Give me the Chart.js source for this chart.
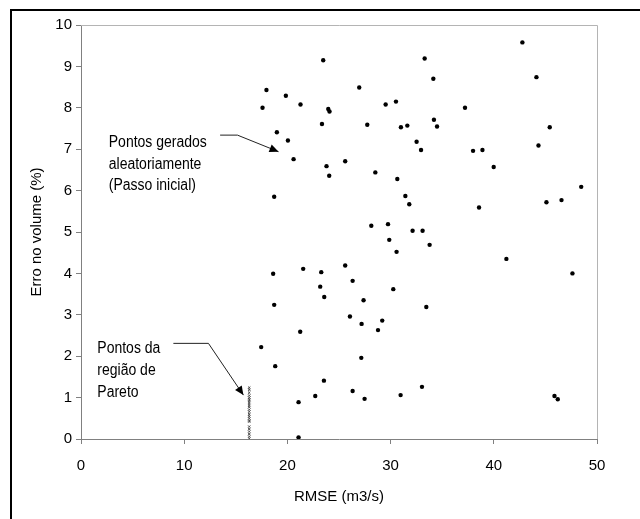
<!DOCTYPE html>
<html>
<head>
<meta charset="utf-8">
<script src="https://cdn.jsdelivr.net/npm/chart.js@4.4.1/dist/chart.umd.min.js"></script>
<style>
  body { margin: 0; background: #fff; }
</style>
</head>
<body>
<canvas id="chart" width="640" height="519"></canvas>
<script>
// random points (initial step)
const randomX = [17.97, 17.59, 19.85, 21.27, 18.98, 20.05, 20.60, 18.72, 23.35, 23.47,
  42.77, 33.30, 44.13, 34.14, 26.96, 23.96, 24.08, 29.52, 30.52, 37.21,
  27.74, 31.00, 31.62, 34.20, 34.50, 45.42, 32.52, 32.95, 37.99, 38.90,
  44.33, 23.79, 24.05, 25.60, 28.52, 39.99, 30.65, 31.43, 31.81, 48.47,
  45.10, 46.56, 38.57, 28.13, 29.75, 32.13, 33.10, 29.87, 33.78, 30.58,
  41.22, 18.62, 21.53, 23.28, 23.18, 18.72, 21.24, 17.46, 18.82, 22.70,
  21.08, 21.08, 25.60, 26.32, 23.57, 30.26, 27.38, 33.46, 26.06, 29.19,
  27.19, 28.78, 27.16, 23.54, 26.32, 27.48, 30.97, 33.04, 45.88, 46.20, 47.62];
const randomY = [8.43, 8.00, 8.29, 8.08, 7.41, 7.21, 6.76, 5.85, 7.61, 9.15,
  9.58, 9.19, 8.74, 8.70, 8.49, 7.97, 7.91, 8.08, 8.15, 8.00,
  7.59, 7.53, 7.57, 7.71, 7.55, 7.53, 7.18, 6.98, 6.96, 6.98,
  7.09, 6.59, 6.36, 6.71, 6.44, 6.57, 6.28, 5.87, 5.67, 6.09,
  5.72, 5.77, 5.59, 5.15, 5.19, 5.03, 5.03, 4.81, 4.69, 4.52,
  4.35, 3.99, 4.11, 4.03, 3.68, 3.24, 2.59, 2.22, 1.76, 1.04,
  0.89, 0.04, 4.19, 3.82, 3.43, 3.62, 3.35, 3.19, 2.96, 2.86,
  2.78, 2.63, 1.96, 1.41, 1.16, 0.97, 1.06, 1.26, 1.04, 0.96, 4.00];

// Pareto region points
const paretoX = [16.3, 16.3, 16.3, 16.3, 16.3, 16.3, 16.3, 16.3, 16.3, 16.3,
  16.3, 16.3, 16.3, 16.3, 16.3, 16.3, 16.3, 16.3, 16.3, 16.3, 16.3, 16.3, 16.3];
const paretoY = [1.24, 1.19, 1.12, 1.05, 1.00, 0.96, 0.92, 0.87, 0.82, 0.77,
  0.71, 0.66, 0.60, 0.55, 0.50, 0.45, 0.42, 0.30, 0.24, 0.18, 0.12, 0.06, 0.01];

const xTicks = [0, 10, 20, 30, 40, 50];
const yTicks = [0, 1, 2, 3, 4, 5, 6, 7, 8, 9, 10];
const xTitle = 'RMSE (m3/s)';
const yTitle = 'Erro no volume (%)';

const notes = [
  { lines: ['Pontos gerados', 'aleatoriamente', '(Passo inicial)'], x: 2.69, y: 7.06,
    arrow: [[13.48, 7.34], [15.16, 7.34], [19.14, 6.94]] },
  { lines: ['Pontos da', 'região de', 'Pareto'], x: 1.58, y: 2.07,
    arrow: [[8.95, 2.31], [12.35, 2.31], [15.74, 1.06]] }
];

const FONT = 'Arial, "Liberation Sans", sans-serif';

const decor = {
  id: 'decor',
  beforeDraw(chart) {
    const ctx = chart.ctx;
    ctx.save();
    ctx.fillStyle = '#fff';
    ctx.fillRect(0, 0, chart.width, chart.height);
    // outer frame
    ctx.strokeStyle = '#000';
    ctx.lineWidth = 2;
    ctx.beginPath();
    ctx.moveTo(11, 519);
    ctx.lineTo(11, 10);
    ctx.lineTo(640, 10);
    ctx.stroke();
    ctx.restore();
  },
  afterDraw(chart) {
    const ctx = chart.ctx;
    const a = chart.chartArea;
    const xs = chart.scales.x, ys = chart.scales.y;
    ctx.save();
    // plot area border top/right
    ctx.strokeStyle = '#b4b4b4';
    ctx.lineWidth = 1;
    ctx.beginPath();
    ctx.moveTo(a.left, a.top + 0.5);
    ctx.lineTo(a.right + 0.5, a.top + 0.5);
    ctx.lineTo(a.right + 0.5, a.bottom);
    ctx.stroke();

    notes.forEach(n => {
      const tx = xs.getPixelForValue(n.x);
      const ty = ys.getPixelForValue(n.y);
      // text is a bit tall and narrow in the original
      ctx.save();
      ctx.translate(tx, ty);
      ctx.scale(0.875, 1);
      ctx.font = '16px ' + FONT;
      ctx.fillStyle = '#000';
      ctx.textBaseline = 'alphabetic';
      ctx.textAlign = 'left';
      n.lines.forEach((l, i) => ctx.fillText(l, 0, i * 21.8));
      ctx.restore();

      const pts = n.arrow.map(p => [xs.getPixelForValue(p[0]), ys.getPixelForValue(p[1])]);
      ctx.strokeStyle = '#222';
      ctx.lineWidth = 1;
      ctx.beginPath();
      ctx.moveTo(pts[0][0], pts[0][1]);
      for (let i = 1; i < pts.length; i++) ctx.lineTo(pts[i][0], pts[i][1]);
      ctx.stroke();
      // arrow head
      const [p1, p2] = [pts[pts.length - 2], pts[pts.length - 1]];
      const ang = Math.atan2(p2[1] - p1[1], p2[0] - p1[0]);
      const len = 9, wid = 4;
      ctx.fillStyle = '#000';
      ctx.beginPath();
      ctx.moveTo(p2[0], p2[1]);
      ctx.lineTo(p2[0] - len * Math.cos(ang) + wid * Math.sin(ang), p2[1] - len * Math.sin(ang) - wid * Math.cos(ang));
      ctx.lineTo(p2[0] - len * Math.cos(ang) - wid * Math.sin(ang), p2[1] - len * Math.sin(ang) + wid * Math.cos(ang));
      ctx.closePath();
      ctx.fill();
    });
    ctx.restore();
  }
};

new Chart(document.getElementById('chart'), {
  type: 'scatter',
  data: {
    datasets: [
      {
        label: 'Pontos gerados aleatoriamente',
        data: randomX.map((x, i) => ({ x: x, y: randomY[i] })),
        backgroundColor: '#000',
        borderColor: '#000',
        pointRadius: 2.2,
        borderWidth: 0
      },
      {
        label: 'Pontos da região de Pareto',
        data: paretoX.map((x, i) => ({ x: x, y: paretoY[i] })),
        pointStyle: 'crossRot',
        pointRadius: 1.6,
        borderColor: '#444',
        borderWidth: 1
      }
    ]
  },
  options: {
    responsive: false,
    animation: false,
    layout: { padding: { left: 0, top: 25, right: 43, bottom: 0 } },
    plugins: { legend: { display: false }, tooltip: { enabled: false } },
    scales: {
      x: {
        type: 'linear',
        min: 0, max: 50,
        afterFit: s => { s.height = 80; },
        afterBuildTicks: s => { s.ticks = xTicks.map(v => ({ value: v })); },
        border: { color: '#808080', width: 1 },
        grid: { drawOnChartArea: false, color: '#808080', tickLength: 5 },
        ticks: { color: '#000', font: { family: FONT, size: 15 }, padding: 13, maxRotation: 0 },
        title: { display: true, text: xTitle, color: '#000', font: { family: FONT, size: 15 }, padding: { top: 0, bottom: 13 } }
      },
      y: {
        type: 'linear',
        min: 0, max: 10,
        afterFit: s => { s.width = 81; },
        afterBuildTicks: s => { s.ticks = yTicks.map(v => ({ value: v })); },
        border: { color: '#808080', width: 1 },
        grid: { drawOnChartArea: false, color: '#808080', tickLength: 5 },
        ticks: { color: '#000', font: { family: FONT, size: 15 }, padding: 4 },
        title: { display: true, text: yTitle, color: '#000', font: { family: FONT, size: 15 }, padding: { top: 28, bottom: 0 } }
      }
    }
  },
  plugins: [decor]
});
</script>
</body>
</html>
